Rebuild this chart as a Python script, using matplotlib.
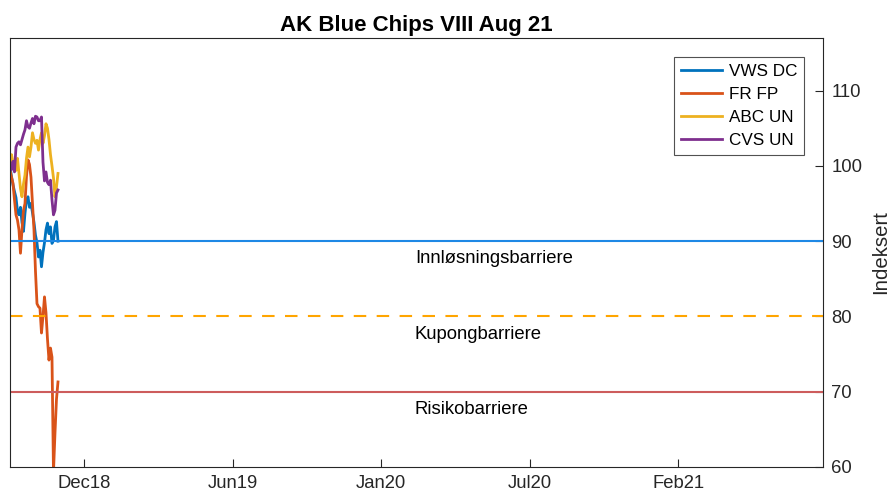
import numpy as np
import pandas as pd
import matplotlib
matplotlib.use("Agg")
import matplotlib.pyplot as plt
import matplotlib.dates as mdates

plt.rcParams['font.family'] = ['Liberation Sans', 'DejaVu Sans']

# --- data (indeksert, start = 100), hver 2. dag fra 28.08.2018 ---
start = pd.Timestamp('2018-08-28')
vws_dc = [100.0, 98.6, 97.5, 96.6, 95.8, 94.0, 93.5, 94.5, 92.5, 91.3, 93.7,
          95.5, 95.9, 94.5, 95.0, 93.8, 92.5, 90.8, 89.8, 87.9, 88.8, 86.6,
          88.5, 89.8, 91.5, 92.4, 91.0, 91.9, 89.7, 90.1, 91.9, 92.6, 90.0]
fr_fp = [99.4, 98.5, 97.7, 95.5, 93.5, 92.8, 91.5, 88.4, 91.5, 94.1, 95.0,
         98.6, 100.8, 100.2, 98.5, 95.0, 91.5, 86.0, 81.7, 81.3, 81.1, 77.8,
         80.0, 82.6, 80.5, 77.0, 74.2, 75.8, 74.6, 59.3, 64.5, 69.0, 71.3]
abc_un = [100.0, 101.5, 100.5, 99.5, 99.4, 101.0, 99.0, 97.0, 95.9, 97.6, 98.8,
          101.0, 102.5, 101.2, 102.5, 104.4, 103.5, 103.0, 103.4, 102.1, 103.5, 104.4,
          103.0, 104.0, 105.6, 105.0, 103.5, 101.5, 100.0, 98.4, 95.9, 97.2, 99.0]
cvs_un = [100.0, 99.5, 100.6, 99.2, 102.5, 103.0, 103.2, 102.8, 103.5, 104.2, 104.8,
          106.0, 105.2, 105.0, 105.7, 106.3, 105.6, 106.6, 106.5, 106.0, 106.0, 106.5,
          100.5, 98.0, 99.2, 97.8, 97.5, 98.1, 95.5, 93.5, 94.1, 96.4, 96.8]
dates = pd.date_range(start, periods=len(vws_dc), freq='2D')

names = ['VWS DC', 'FR FP', 'ABC UN', 'CVS UN']
series = [vws_dc, fr_fp, abc_un, cvs_un]
colors = ['#0072BD', '#D95319', '#EDB120', '#7E2F8E']

barrier_levels = [90, 80, 70]
barrier_names = ['Innløsningsbarriere', 'Kupongbarriere', 'Risikobarriere']
barrier_colors = ['#1E88E5', '#FFA500', '#CD5C5C']
barrier_styles = ['-', (0, (6, 5)), '-']

# akse / ticks
x_start = pd.Timestamp('2018-08-28')
x_end = pd.Timestamp('2021-08-16')
tick_dates = pd.date_range('2018-12-05', periods=5, freq='198D')

fig = plt.figure(figsize=(8.91, 4.96), dpi=100)
ax = fig.add_axes([0.0112, 0.0585, 0.9125, 0.865])

for name, vals, c in zip(names, series, colors):
    ax.plot(dates, vals, color=c, linewidth=2, label=name)

label_x = pd.Timestamp('2020-02-19')
for lvl, txt, c, ls in zip(barrier_levels, barrier_names, barrier_colors, barrier_styles):
    ax.axhline(lvl, color=c, linestyle=ls, linewidth=1.5)
    ax.text(label_x, lvl - 2.35, txt, fontsize=13.3, va='center', ha='left')

ax.set_xlim(x_start, x_end)
ax.set_ylim(60, 117)
ax.set_xticks(tick_dates)
ax.set_xticklabels([d.strftime('%b%y') for d in tick_dates])
ax.set_yticks([60, 70, 80, 90, 100, 110])
ax.yaxis.tick_right()
ax.yaxis.set_label_position('right')
ax.set_ylabel('Indeksert', fontsize=14.7, color='#262626', labelpad=6)
ax.tick_params(direction='in', length=5.5, labelsize=13.3, colors='#262626', pad=6)
for sp in ax.spines.values():
    sp.set_color('#262626')
    sp.set_linewidth(0.8)

ax.set_title('AK Blue Chips VIII Aug 21', fontsize=16, fontweight='bold', pad=5)

leg = ax.legend(loc='upper right', fontsize=12.3, frameon=True, fancybox=False,
                edgecolor='#262626', handlelength=2.4, handletextpad=0.4,
                labelspacing=0.48, borderpad=0.4, borderaxespad=1.1)
leg.get_frame().set_linewidth(0.8)

fig.savefig('out.png', dpi=100)
